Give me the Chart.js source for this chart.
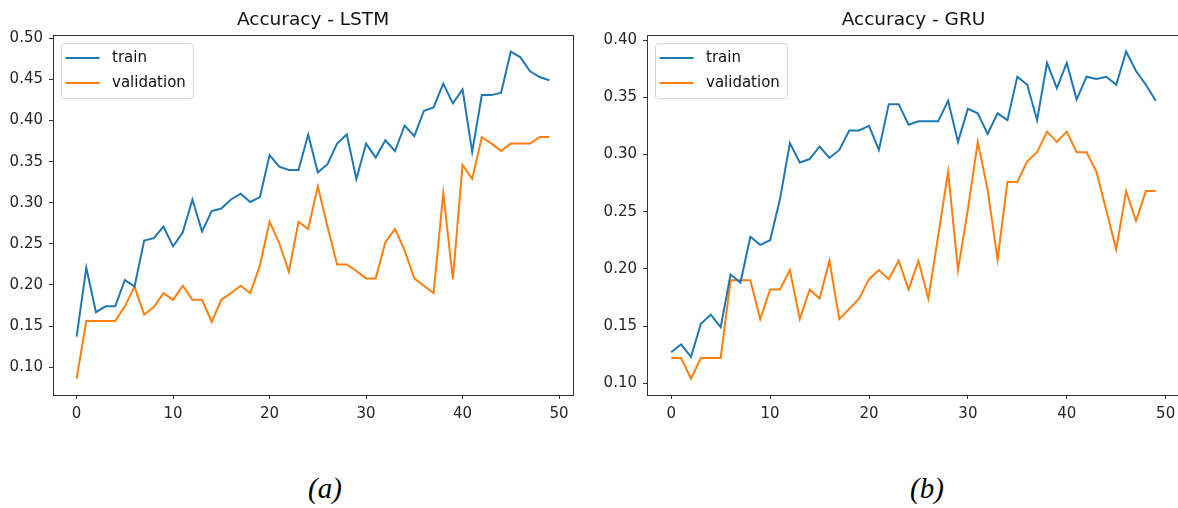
<!DOCTYPE html>
<html>
<head>
<meta charset="utf-8">
<script src="https://cdn.jsdelivr.net/npm/chart.js@4.4.1/dist/chart.umd.min.js"></script>
<style>
	html, body { margin: 0; padding: 0; background: #fff; overflow: hidden; }
	body { width: 1178px; height: 508px; position: relative; }
	canvas { position: absolute; top: 0; }
	.caption {
		position: absolute;
		top: 474px;
		width: 80px;
		line-height: 29px;
		text-align: center;
		font-family: "Liberation Serif", serif;
		font-style: italic;
		font-size: 29px;
		color: #000;
	}
</style>
</head>
<body>
<canvas id="lstmChart" width="590" height="440" style="left:0px"></canvas>
<canvas id="gruChart" width="592" height="440" style="left:590px"></canvas>
<div class="caption" style="left:285px">(a)</div>
<div class="caption" style="left:887px">(b)</div>

<script>
let epochs = Array.from({ length: 50 }, (_, i) => i);

let lstmTrain = [
	0.137, 0.221, 0.167, 0.174, 0.174, 0.206, 0.198, 0.254, 0.257, 0.271,
	0.247, 0.264, 0.304, 0.265, 0.290, 0.293, 0.304, 0.311, 0.301, 0.307,
	0.358, 0.344, 0.340, 0.340, 0.383, 0.337, 0.347, 0.372, 0.383, 0.329,
	0.372, 0.355, 0.376, 0.363, 0.394, 0.381, 0.412, 0.416, 0.445, 0.421,
	0.438, 0.362, 0.431, 0.431, 0.434, 0.484, 0.477, 0.460, 0.453, 0.449,
];
let lstmValidation = [
	0.086, 0.156, 0.156, 0.156, 0.156, 0.174, 0.198, 0.164, 0.173, 0.190,
	0.182, 0.199, 0.182, 0.182, 0.155, 0.182, 0.190, 0.199, 0.190, 0.224,
	0.277, 0.251, 0.216, 0.277, 0.268, 0.320, 0.271, 0.225, 0.225, 0.217,
	0.208, 0.208, 0.252, 0.268, 0.242, 0.208, 0.199, 0.190, 0.312, 0.207,
	0.346, 0.329, 0.380, 0.372, 0.363, 0.372, 0.372, 0.372, 0.380, 0.380,
];

let gruTrain = [
	0.127, 0.134, 0.123, 0.152, 0.160, 0.149, 0.195, 0.188, 0.228, 0.221,
	0.225, 0.261, 0.310, 0.293, 0.296, 0.307, 0.297, 0.304, 0.321, 0.321,
	0.325, 0.304, 0.344, 0.344, 0.326, 0.329, 0.329, 0.329, 0.347, 0.311,
	0.340, 0.336, 0.318, 0.336, 0.330, 0.368, 0.361, 0.330, 0.380, 0.358,
	0.380, 0.348, 0.368, 0.366, 0.368, 0.361, 0.390, 0.373, 0.361, 0.347,
];
let gruValidation = [
	0.122, 0.122, 0.104, 0.122, 0.122, 0.122, 0.190, 0.190, 0.190, 0.156,
	0.182, 0.182, 0.199, 0.156, 0.182, 0.174, 0.207, 0.156, 0.165, 0.174,
	0.191, 0.199, 0.191, 0.207, 0.182, 0.207, 0.174, 0.229, 0.285, 0.199,
	0.252, 0.311, 0.269, 0.208, 0.276, 0.276, 0.294, 0.302, 0.320, 0.311,
	0.320, 0.302, 0.302, 0.285, 0.251, 0.217, 0.268, 0.242, 0.268, 0.268,
];

let xTicks = [0, 10, 20, 30, 40, 50];
let lstmYTicks = [0.10, 0.15, 0.20, 0.25, 0.30, 0.35, 0.40, 0.45, 0.50];
let gruYTicks = [0.10, 0.15, 0.20, 0.25, 0.30, 0.35, 0.40];

const BLUE = "#1f77b4";
const ORANGE = "#ff7f0e";
const FONT = "'DejaVu Sans', sans-serif";

// matplotlib style: 5% margin round the data
const withMargin = (values) => {
	let lo = Math.min(...values);
	let hi = Math.max(...values);
	let m = (hi - lo) * 0.05;
	return [lo - m, hi + m];
};

// full box frame + legend inside the axes, like pyplot
const framePlugin = {
	id: "frameAndLegend",
	afterDraw(chart) {
		const { ctx, chartArea } = chart;
		ctx.save();
		ctx.strokeStyle = "#333";
		ctx.lineWidth = 1;
		ctx.strokeRect(
			Math.round(chartArea.left) + 0.5,
			Math.round(chartArea.top) + 0.5,
			Math.round(chartArea.right - chartArea.left),
			Math.round(chartArea.bottom - chartArea.top)
		);

		ctx.font = "15px " + FONT;
		let textW = Math.max(...chart.data.datasets.map((d) => ctx.measureText(d.label).width));
		let bx = chartArea.left + 8;
		let by = chartArea.top + 8;
		let bw = 51 + textW + 7;
		let bh = 55;
		ctx.beginPath();
		ctx.roundRect(bx + 0.5, by + 0.5, bw, bh, 3);
		ctx.fillStyle = "rgba(255,255,255,0.8)";
		ctx.fill();
		ctx.strokeStyle = "#d6d6d6";
		ctx.stroke();

		chart.data.datasets.forEach((d, i) => {
			let y = by + 14.7 + i * 25;
			ctx.beginPath();
			ctx.moveTo(bx + 4.5, y);
			ctx.lineTo(bx + 38.5, y);
			ctx.strokeStyle = d.borderColor;
			ctx.lineWidth = 2;
			ctx.stroke();
			ctx.fillStyle = "#111";
			ctx.textBaseline = "middle";
			ctx.textAlign = "left";
			ctx.fillText(d.label, bx + 51, y);
		});
		ctx.restore();
	},
};

const makeChart = (canvasId, title, train, validation, yTicks, yWidth, padRight) => {
	let [yMin, yMax] = withMargin(train.concat(validation));
	let [xMin, xMax] = withMargin(epochs);

	let dataTrain = {
		label: "train",
		data: epochs.map((e, i) => ({ x: e, y: train[i] })),
		borderColor: BLUE,
		borderWidth: 2,
		pointRadius: 0,
		tension: 0,
		fill: false,
	};
	let dataValidation = {
		label: "validation",
		data: epochs.map((e, i) => ({ x: e, y: validation[i] })),
		borderColor: ORANGE,
		borderWidth: 2,
		pointRadius: 0,
		tension: 0,
		fill: false,
	};

	return new Chart(document.getElementById(canvasId), {
		type: "line",
		data: { datasets: [dataTrain, dataValidation] },
		plugins: [framePlugin],
		options: {
			responsive: false,
			animation: false,
			events: [],
			layout: { padding: { top: 0, left: 0, right: padRight, bottom: 0 } },
			plugins: {
				legend: { display: false },
				tooltip: { enabled: false },
				title: {
					display: true,
					fullSize: false,
					text: title,
					color: "#111",
					font: { family: FONT, size: 18.5, weight: "normal", lineHeight: 1.2 },
					padding: { top: 9, bottom: 4 },
				},
			},
			scales: {
				x: {
					type: "linear",
					min: xMin,
					max: xMax,
					afterBuildTicks: (scale) => {
						scale.ticks = xTicks.map((v) => ({ value: v }));
					},
					afterFit: (scale) => {
						scale.height = 45;
					},
					border: { display: false },
					grid: { drawOnChartArea: false, drawTicks: true, tickLength: 4, color: "#333" },
					ticks: {
						color: "#262626",
						font: { family: FONT, size: 15 },
						padding: 6,
						maxRotation: 0,
						callback: (v) => String(v),
					},
				},
				y: {
					type: "linear",
					min: yMin,
					max: yMax,
					afterBuildTicks: (scale) => {
						scale.ticks = yTicks.map((v) => ({ value: v }));
					},
					afterFit: (scale) => {
						scale.width = yWidth;
					},
					border: { display: false },
					grid: { drawOnChartArea: false, drawTicks: true, tickLength: 4, color: "#333" },
					ticks: {
						color: "#262626",
						font: { family: FONT, size: 15 },
						padding: 6,
						callback: (v) => v.toFixed(2),
					},
				},
			},
		},
	});
};

let lstmChart = makeChart("lstmChart", "Accuracy - LSTM", lstmTrain, lstmValidation, lstmYTicks, 53, 17);
let gruChart = makeChart("gruChart", "Accuracy - GRU", gruTrain, gruValidation, gruYTicks, 57, 2);
</script>
</body>
</html>
